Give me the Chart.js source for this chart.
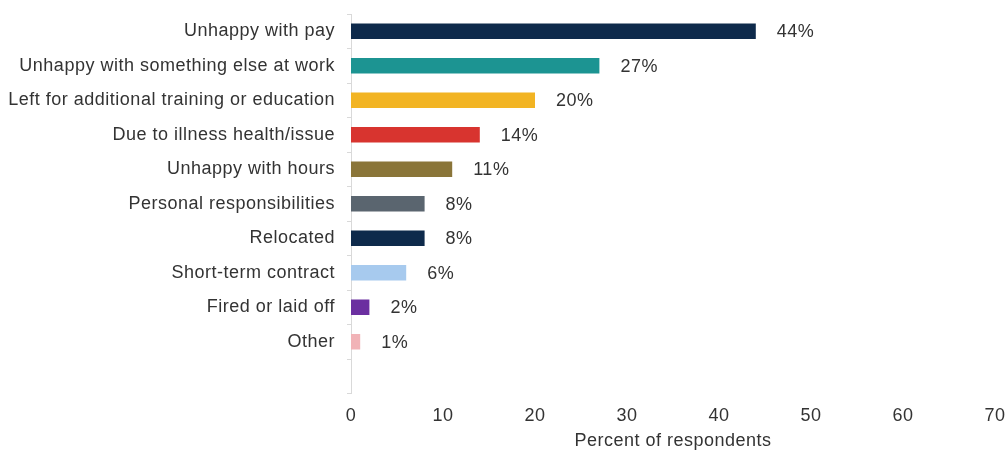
<!DOCTYPE html>
<html>
<head>
<meta charset="utf-8">
<script src="https://cdn.jsdelivr.net/npm/chart.js@4"></script>
<style>
  html, body { margin: 0; padding: 0; background: #ffffff; }
  #wrap { width: 1008px; height: 453px; }
</style>
</head>
<body>
<div id="wrap"><canvas id="chart" width="1008" height="453"></canvas></div>
<script>
// Reasons for leaving, share of respondents (%)
const categories = [
  'Unhappy with pay',
  'Unhappy with something else at work',
  'Left for additional training or education',
  'Due to illness health/issue',
  'Unhappy with hours',
  'Personal responsibilities',
  'Relocated',
  'Short-term contract',
  'Fired or laid off',
  'Other'
];
const percents = [44, 27, 20, 14, 11, 8, 8, 6, 2, 1];
const barColors = [
  '#0e2a4b', '#1c9492', '#f2b423', '#d8342f', '#8a7539',
  '#5a656f', '#0e2a4b', '#a7caee', '#6b2fa0', '#f1b3b7'
];
const xTicks = [0, 10, 20, 30, 40, 50, 60, 70];
const axisTitle = 'Percent of respondents';

const FONT = '"Liberation Sans", Arial, sans-serif';
const TEXT = '#333333';
const SIZE = 18;
const SPACING = '0.5px';

// Slightly tracked-out lettering for every piece of chart text
const tracking = {
  id: 'tracking',
  beforeUpdate(chart) { chart.ctx.letterSpacing = SPACING; },
  beforeDraw(chart) { chart.ctx.letterSpacing = SPACING; }
};

// Value labels drawn just past the end of each bar
const valueLabels = {
  id: 'valueLabels',
  afterDatasetsDraw(chart) {
    const ctx = chart.ctx;
    const meta = chart.getDatasetMeta(0);
    ctx.save();
    ctx.letterSpacing = SPACING;
    ctx.font = SIZE + 'px ' + FONT;
    ctx.fillStyle = TEXT;
    ctx.textAlign = 'left';
    ctx.textBaseline = 'middle';
    meta.data.forEach((bar, i) => {
      const v = percents[i];
      if (v == null) return;
      ctx.fillText(v + '%', bar.x + 21, bar.y + 1);
    });
    ctx.restore();
  }
};

new Chart(document.getElementById('chart'), {
  type: 'bar',
  data: {
    // trailing blank slot leaves the empty band above the value axis
    labels: categories.concat(['']),
    datasets: [{
      data: percents.concat([null]),
      backgroundColor: barColors,
      borderWidth: 0,
      categoryPercentage: 1,
      barPercentage: 0.45
    }]
  },
  options: {
    indexAxis: 'y',
    responsive: false,
    animation: false,
    layout: { padding: { top: 14, right: 13, left: 0, bottom: 0 } },
    plugins: {
      legend: { display: false },
      tooltip: { enabled: false }
    },
    scales: {
      y: {
        grid: {
          display: true,
          drawOnChartArea: false,
          // long tick slot gives the label gap; only the 4px next to the axis are inked
          tickLength: 16,
          tickBorderDash: [0, 12, 4, 100],
          color: '#d9d9d9',
          offset: true
        },
        border: { display: true, color: '#d9d9d9', width: 1 },
        ticks: {
          font: { family: FONT, size: SIZE },
          color: TEXT,
          padding: 0,
          autoSkip: false
        },
        afterFit(scale) { scale.width = 351; }
      },
      x: {
        min: 0,
        max: 70,
        grid: { display: false, drawTicks: true, tickLength: 12 },
        border: { display: false },
        afterBuildTicks(scale) {
          scale.ticks = xTicks.map(v => ({ value: v }));
        },
        ticks: {
          font: { family: FONT, size: SIZE },
          color: TEXT,
          padding: 0
        },
        title: {
          display: true,
          text: axisTitle,
          font: { family: FONT, size: SIZE },
          color: TEXT,
          padding: { top: 4, bottom: 1 }
        },
        afterFit(scale) { scale.height = 59.5; }
      }
    }
  },
  plugins: [tracking, valueLabels]
});
</script>
</body>
</html>
